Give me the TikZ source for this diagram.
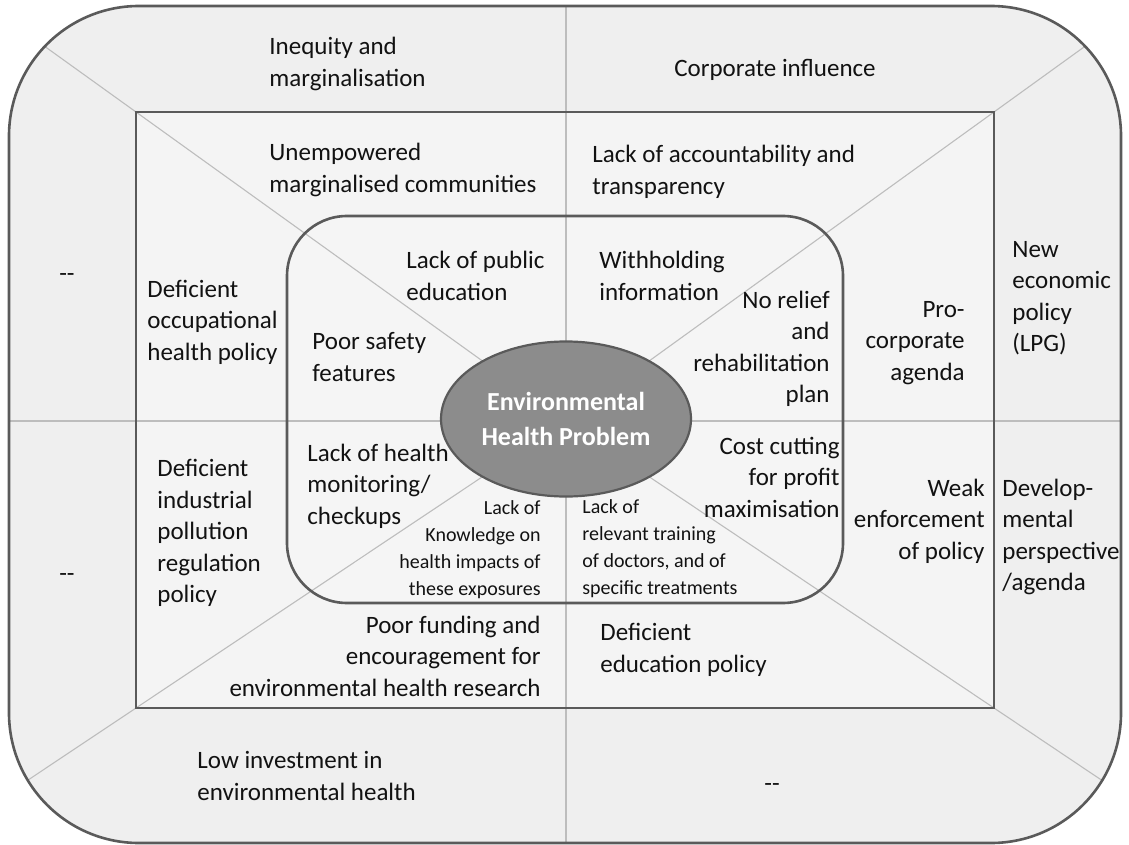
\documentclass[tikz,border=0pt]{standalone}
\usepackage{fontspec}
\setmainfont{Carlito}
\usetikzlibrary{shapes.geometric,calc}
\definecolor{bordergray}{HTML}{5A5A5A}
\definecolor{thingray}{HTML}{BDBDBD}
\definecolor{outerfill}{HTML}{EFEFEF}
\definecolor{innerfill}{HTML}{F4F4F4}
\definecolor{corefill}{HTML}{F5F5F5}
\definecolor{ellfill}{HTML}{8C8C8C}
\definecolor{txt}{HTML}{121212}
\tikzset{
  frame/.style={draw=bordergray, line width=1.3pt},
  divider/.style={draw=thingray, line width=0.55pt},
  lbl/.style={font=\fontsize{12.5}{15.75}\selectfont, text=txt, inner sep=0pt},
  lblL/.style={lbl, anchor=west, align=left},
  lblR/.style={lbl, anchor=east, align=right},
  lblC/.style={lbl, anchor=center, align=center},
  smallL/.style={font=\fontsize{10}{13.5}\selectfont, text=txt, inner sep=0pt, anchor=west, align=left},
  smallR/.style={font=\fontsize{10}{13.5}\selectfont, text=txt, inner sep=0pt, anchor=east, align=right},
  core/.style={ellipse, draw=bordergray, line width=1.1pt, fill=ellfill, minimum width=125pt, minimum height=77.5pt, inner sep=0pt, text=white, font=\fontsize{13}{17.5}\selectfont\bfseries, align=center}
}
\begin{document}
\begin{tikzpicture}[x=0.5pt,y=-0.5pt]
\useasboundingbox (0,0) rectangle (1129,845);
% frames
\coordinate (C) at (566,421);
\path[fill=outerfill, rounded corners=65pt] (9,6) rectangle (1121,843);
\path[fill=innerfill] (136,112) rectangle (994,708);
\path[fill=corefill, rounded corners=30pt] (287,216) rectangle (843,603);
% dividers
\begin{scope}
\clip[rounded corners=65pt] (9,6) rectangle (1121,843);
\draw[divider] (566,0) -- (566,845);
\draw[divider] (0,421) -- (1129,421);
\draw[divider] (C) -- ($(C)!2!(136,112)$);
\draw[divider] (C) -- ($(C)!2!(994,112)$);
\draw[divider] (C) -- ($(C)!2!(136,708)$);
\draw[divider] (C) -- ($(C)!2!(994,708)$);
\end{scope}
\draw[frame, rounded corners=65pt] (9,6) rectangle (1121,843);
\draw[frame] (136,112) rectangle (994,708);
\draw[frame, rounded corners=30pt] (287,216) rectangle (843,603);
\node[core] (ehp) at (566,419) {Environmental\\Health Problem};
% outer band
\node[lblL] (ineq) at (269,64) {Inequity and\\marginalisation};
\node[lblC] (corp) at (775,70) {Corporate influence};
\node[lblC] (dashA) at (67,278) {-{}-};
\node[lblL] (nep) at (1012,298) {New\\economic\\policy\\(LPG)};
\node[lblC] (dashB) at (67,578) {-{}-};
\node[lblL] (dev) at (1002,537) {Develop-\\mental\\perspective\\/agenda};
\node[lblL] (lowinv) at (197,776) {Low investment in\\environmental health};
\node[lblC] (dashC) at (772,788) {-{}-};
% inner band
\node[lblL] (unemp) at (269,170) {Unempowered\\marginalised communities};
\node[lblL] (acct) at (592,172) {Lack of accountability and\\transparency};
\node[lblL] (occ) at (147,322) {Deficient\\occupational\\health policy};
\node[lblR] (procorp) at (965,343) {Pro-\\corporate\\agenda};
\node[lblL] (indus) at (157,533) {Deficient\\industrial\\pollution\\regulation\\policy};
\node[lblR] (weak) at (985,521) {Weak\\enforcement\\of policy};
\node[lblR] (fund) at (541,656) {Poor funding and\\encouragement for\\environmental health research};
\node[lblL] (edu) at (600,650) {Deficient\\education policy};
% core
\node[lblL] (pubedu) at (406,276) {Lack of public\\education};
\node[lblL] (withh) at (599,276) {Withholding\\information};
\node[lblL] (safety) at (312,357) {Poor safety\\features};
\node[lblR] (relief) at (830,349) {No relief\\and\\rehabilitation\\plan};
\node[lblL] (monit) at (307,486) {Lack of health\\monitoring/\\checkups};
\node[lblR] (cost) at (840,477) {Cost cutting\\for profit\\maximisation};
\node[smallR] (know) at (541,550) {Lack of\\Knowledge on\\health impacts of\\these exposures};
\node[smallL] (train) at (582,549) {Lack of\\relevant training\\of doctors, and of\\specific treatments};
\end{tikzpicture}
\end{document}
